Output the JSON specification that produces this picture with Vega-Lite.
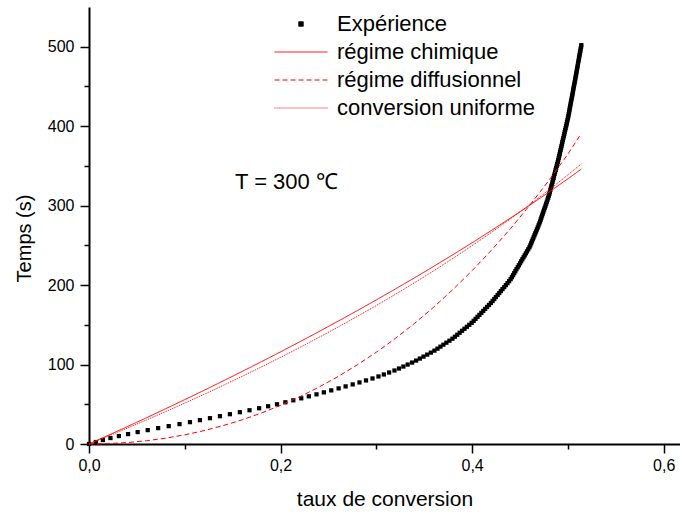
{
  "$schema": "https://vega.github.io/schema/vega-lite/v6.json",
  "width": 591,
  "height": 437,
  "autosize": {"type": "none"},
  "padding": {"left": 89, "top": 7, "right": 0, "bottom": 68},
  "background": "white",
  "config": {
    "view": {"stroke": null},
    "font": "Liberation Sans",
    "axis": {
      "domainColor": "black",
      "domainWidth": 2,
      "tickColor": "black",
      "tickWidth": 1.5,
      "grid": false,
      "labelFont": "Liberation Sans",
      "labelFontSize": 16,
      "labelColor": "black",
      "titleFont": "Liberation Sans",
      "titleFontWeight": "normal",
      "titleColor": "black"
    }
  },
  "datasets": {
    "exp": [
      {"x":0,"t":0},{"x":0.0071,"t":2.5},{"x":0.0145,"t":5},{"x":0.0224,"t":7.5},{"x":0.0312,"t":10},{"x":0.0408,"t":12.5},{"x":0.0508,"t":15},{"x":0.0613,"t":17.5},{"x":0.0722,"t":20},{"x":0.0832,"t":22.5},
      {"x":0.0945,"t":25},{"x":0.1054,"t":27.5},{"x":0.1158,"t":30},{"x":0.1263,"t":32.5},{"x":0.1367,"t":35},{"x":0.1471,"t":37.5},{"x":0.1575,"t":40},{"x":0.1676,"t":42.5},{"x":0.1776,"t":45},{"x":0.1870,"t":47.5},
      {"x":0.1963,"t":50},{"x":0.2050,"t":52.5},{"x":0.2133,"t":55},{"x":0.2216,"t":57.5},{"x":0.2295,"t":60},{"x":0.2375,"t":62.5},{"x":0.2452,"t":65},{"x":0.2529,"t":67.5},{"x":0.2606,"t":70},{"x":0.2679,"t":72.5},
      {"x":0.2753,"t":75},{"x":0.2824,"t":77.5},{"x":0.2892,"t":80},{"x":0.2960,"t":82.5},{"x":0.3022,"t":85},{"x":0.3078,"t":87.5},{"x":0.3133,"t":90},{"x":0.3189,"t":92.5},{"x":0.3236,"t":95},{"x":0.3282,"t":97.5},
      {"x":0.3327,"t":100},{"x":0.3373,"t":102.5},{"x":0.3415,"t":105},{"x":0.3454,"t":107.5},{"x":0.3492,"t":110},{"x":0.3531,"t":112.5},{"x":0.3569,"t":115},{"x":0.3606,"t":117.5},{"x":0.3638,"t":120},{"x":0.3669,"t":122.5},
      {"x":0.3700,"t":125},{"x":0.3731,"t":127.5},{"x":0.3763,"t":130},{"x":0.3794,"t":132.5},{"x":0.3820,"t":135},{"x":0.3845,"t":137.5},{"x":0.3870,"t":140},{"x":0.3895,"t":142.5},{"x":0.3920,"t":145},{"x":0.3945,"t":147.5},
      {"x":0.3970,"t":150},{"x":0.3995,"t":152.5},{"x":0.4016,"t":155},{"x":0.4036,"t":157.5},{"x":0.4056,"t":160},{"x":0.4076,"t":162.5},{"x":0.4096,"t":165},{"x":0.4116,"t":167.5},{"x":0.4136,"t":170},{"x":0.4156,"t":172.5},
      {"x":0.4176,"t":175},{"x":0.4196,"t":177.5},{"x":0.4214,"t":180},{"x":0.4231,"t":182.5},{"x":0.4248,"t":185},{"x":0.4266,"t":187.5},{"x":0.4283,"t":190},{"x":0.4300,"t":192.5},{"x":0.4317,"t":195},{"x":0.4335,"t":197.5},
      {"x":0.4352,"t":200},{"x":0.4369,"t":202.5},{"x":0.4386,"t":205},{"x":0.4402,"t":207.5},{"x":0.4415,"t":210},{"x":0.4427,"t":212.5},{"x":0.4439,"t":215},{"x":0.4451,"t":217.5},{"x":0.4463,"t":220},{"x":0.4476,"t":222.5},
      {"x":0.4488,"t":225},{"x":0.4500,"t":227.5},{"x":0.4512,"t":230},{"x":0.4524,"t":232.5},{"x":0.4537,"t":235},{"x":0.4549,"t":237.5},{"x":0.4561,"t":240},{"x":0.4573,"t":242.5},{"x":0.4585,"t":245},{"x":0.4598,"t":247.5},
      {"x":0.4607,"t":250},{"x":0.4616,"t":252.5},{"x":0.4624,"t":255},{"x":0.4633,"t":257.5},{"x":0.4641,"t":260},{"x":0.4650,"t":262.5},{"x":0.4659,"t":265},{"x":0.4667,"t":267.5},{"x":0.4676,"t":270},{"x":0.4685,"t":272.5},
      {"x":0.4693,"t":275},{"x":0.4701,"t":277.5},{"x":0.4709,"t":280},{"x":0.4716,"t":282.5},{"x":0.4723,"t":285},{"x":0.4730,"t":287.5},{"x":0.4737,"t":290},{"x":0.4744,"t":292.5},{"x":0.4751,"t":295},{"x":0.4759,"t":297.5},
      {"x":0.4766,"t":300},{"x":0.4773,"t":302.5},{"x":0.4780,"t":305},{"x":0.4787,"t":307.5},{"x":0.4794,"t":310},{"x":0.4801,"t":312.5},{"x":0.4807,"t":315},{"x":0.4812,"t":317.5},{"x":0.4817,"t":320},{"x":0.4823,"t":322.5},
      {"x":0.4828,"t":325},{"x":0.4834,"t":327.5},{"x":0.4839,"t":330},{"x":0.4845,"t":332.5},{"x":0.4850,"t":335},{"x":0.4855,"t":337.5},{"x":0.4861,"t":340},{"x":0.4866,"t":342.5},{"x":0.4872,"t":345},{"x":0.4877,"t":347.5},
      {"x":0.4883,"t":350},{"x":0.4888,"t":352.5},{"x":0.4894,"t":355},{"x":0.4899,"t":357.5},{"x":0.4904,"t":360},{"x":0.4909,"t":362.5},{"x":0.4914,"t":365},{"x":0.4918,"t":367.5},{"x":0.4923,"t":370},{"x":0.4928,"t":372.5},
      {"x":0.4933,"t":375},{"x":0.4938,"t":377.5},{"x":0.4942,"t":380},{"x":0.4947,"t":382.5},{"x":0.4952,"t":385},{"x":0.4957,"t":387.5},{"x":0.4962,"t":390},{"x":0.4966,"t":392.5},{"x":0.4971,"t":395},{"x":0.4976,"t":397.5},
      {"x":0.4981,"t":400},{"x":0.4986,"t":402.5},{"x":0.4990,"t":405},{"x":0.4995,"t":407.5},{"x":0.5000,"t":410},{"x":0.5004,"t":412.5},{"x":0.5008,"t":415},{"x":0.5012,"t":417.5},{"x":0.5016,"t":420},{"x":0.5019,"t":422.5},
      {"x":0.5023,"t":425},{"x":0.5027,"t":427.5},{"x":0.5031,"t":430},{"x":0.5035,"t":432.5},{"x":0.5039,"t":435},{"x":0.5043,"t":437.5},{"x":0.5047,"t":440},{"x":0.5051,"t":442.5},{"x":0.5054,"t":445},{"x":0.5058,"t":447.5},
      {"x":0.5062,"t":450},{"x":0.5066,"t":452.5},{"x":0.5070,"t":455},{"x":0.5074,"t":457.5},{"x":0.5077,"t":460},{"x":0.5081,"t":462.5},{"x":0.5085,"t":465},{"x":0.5089,"t":467.5},{"x":0.5092,"t":470},{"x":0.5096,"t":472.5},
      {"x":0.5100,"t":475},{"x":0.5104,"t":477.5},{"x":0.5107,"t":480},{"x":0.5111,"t":482.5},{"x":0.5115,"t":485},{"x":0.5118,"t":487.5},{"x":0.5122,"t":490},{"x":0.5126,"t":492.5},{"x":0.5130,"t":495},{"x":0.5133,"t":497.5},
      {"x":0.5137,"t":500},{"x":0.5140,"t":502}
    ],
    "models": [
      {"x":0,"régime chimique":0,"régime diffusionnel":0,"conversion uniforme":0},
      {"x":0.02,"régime chimique":10.86,"régime diffusionnel":0.45,"conversion uniforme":9.87},
      {"x":0.04,"régime chimique":21.87,"régime diffusionnel":1.8,"conversion uniforme":19.95},
      {"x":0.06,"régime chimique":33.03,"régime diffusionnel":4.09,"conversion uniforme":30.24},
      {"x":0.08,"régime chimique":44.35,"régime diffusionnel":7.33,"conversion uniforme":40.75},
      {"x":0.10,"régime chimique":55.84,"régime diffusionnel":11.57,"conversion uniforme":51.49},
      {"x":0.12,"régime chimique":67.5,"régime diffusionnel":16.83,"conversion uniforme":62.47},
      {"x":0.14,"régime chimique":79.33,"régime diffusionnel":23.11,"conversion uniforme":73.71},
      {"x":0.16,"régime chimique":91.35,"régime diffusionnel":30.49,"conversion uniforme":85.21},
      {"x":0.18,"régime chimique":103.57,"régime diffusionnel":38.99,"conversion uniforme":96.98},
      {"x":0.20,"régime chimique":115.98,"régime diffusionnel":48.63,"conversion uniforme":109.05},
      {"x":0.22,"régime chimique":128.61,"régime diffusionnel":59.49,"conversion uniforme":121.42},
      {"x":0.24,"régime chimique":141.45,"régime diffusionnel":71.55,"conversion uniforme":134.12},
      {"x":0.26,"régime chimique":154.51,"régime diffusionnel":84.91,"conversion uniforme":147.15},
      {"x":0.28,"régime chimique":167.82,"régime diffusionnel":99.52,"conversion uniforme":160.54},
      {"x":0.30,"régime chimique":181.37,"régime diffusionnel":115.55,"conversion uniforme":174.31},
      {"x":0.32,"régime chimique":195.19,"régime diffusionnel":133.0,"conversion uniforme":188.47},
      {"x":0.34,"régime chimique":209.27,"régime diffusionnel":151.91,"conversion uniforme":203.06},
      {"x":0.36,"régime chimique":223.65,"régime diffusionnel":172.4,"conversion uniforme":218.1},
      {"x":0.38,"régime chimique":238.33,"régime diffusionnel":194.47,"conversion uniforme":233.62},
      {"x":0.40,"régime chimique":253.32,"régime diffusionnel":218.2,"conversion uniforme":249.64},
      {"x":0.42,"régime chimique":268.66,"régime diffusionnel":243.68,"conversion uniforme":266.21},
      {"x":0.44,"régime chimique":284.35,"régime diffusionnel":271.0,"conversion uniforme":283.36},
      {"x":0.46,"régime chimique":300.42,"régime diffusionnel":300.22,"conversion uniforme":301.13},
      {"x":0.48,"régime chimique":316.89,"régime diffusionnel":331.46,"conversion uniforme":319.57},
      {"x":0.50,"régime chimique":333.79,"régime diffusionnel":364.82,"conversion uniforme":338.74},
      {"x":0.514,"régime chimique":346.0,"régime diffusionnel":391.0,"conversion uniforme":352.6}
    ],
    "notes": [
      {"x":0.1524,"t":321,"label":"T = 300 ℃"}
    ]
  },
  "encoding": {
    "x": {
      "field": "x",
      "type": "quantitative",
      "scale": {"domain": [0, 0.617], "nice": false, "zero": false},
      "axis": {
        "title": "taux de conversion",
        "titleFontSize": 21,
        "titlePadding": 15,
        "values": [0, 0.1, 0.2, 0.3, 0.4, 0.5, 0.6],
        "labelExpr": "round(datum.value*10) % 2 === 0 ? replace(format(datum.value, '.1f'), '.', ',') : ''",
        "tickSize": {"condition": {"test": "round(datum.value*10) % 2 === 0", "value": 9}, "value": 5},
        "labelPadding": 4,
        "labelFlush": false,
        "labelOverlap": false
      }
    },
    "y": {
      "field": "t",
      "type": "quantitative",
      "scale": {"domain": [0, 550], "nice": false, "zero": false},
      "axis": {
        "title": "Temps (s)",
        "titleFontSize": 20,
        "titlePadding": 13,
        "titleY": 231,
        "values": [0, 50, 100, 150, 200, 250, 300, 350, 400, 450, 500],
        "labelExpr": "datum.value % 100 === 0 ? datum.label : ''",
        "tickSize": {"condition": {"test": "datum.value % 100 === 0", "value": 9}, "value": 5},
        "labelPadding": 6,
        "labelFlush": false,
        "labelOverlap": false
      }
    }
  },
  "layer": [
    {
      "data": {"name": "exp"},
      "mark": {"type": "point", "shape": "square", "filled": true, "size": 18, "color": "black", "opacity": 1}
    },
    {
      "data": {"name": "models"},
      "transform": [
        {"fold": ["régime chimique", "régime diffusionnel", "conversion uniforme"], "as": ["s", "t"]}
      ],
      "mark": {"type": "line", "strokeWidth": 1},
      "encoding": {
        "color": {
          "field": "s",
          "type": "nominal",
          "scale": {
            "domain": ["Expérience", "régime chimique", "régime diffusionnel", "conversion uniforme"],
            "range": ["black", "red", "red", "red"]
          },
          "legend": {
            "title": null,
            "orient": "none",
            "legendX": 201,
            "legendY": 6,
            "padding": 0,
            "rowPadding": 6,
            "symbolType": "M-5,0H5",
            "symbolSize": 112,
            "symbolStrokeWidth": 1,
            "labelFont": "Liberation Sans",
            "labelFontSize": 22,
            "labelColor": "black",
            "labelOffset": 25,
            "labelLimit": 400,
            "encode": {
              "symbols": {
                "update": {
                  "shape": {"signal": "datum.value === 'Expérience' ? 'square' : 'M-5,0H5'"},
                  "size": {"signal": "datum.value === 'Expérience' ? 20 : 112"},
                  "fill": {"signal": "datum.value === 'Expérience' ? 'black' : 'transparent'"}
                }
              }
            }
          }
        },
        "strokeDash": {
          "field": "s",
          "type": "nominal",
          "scale": {
            "domain": ["Expérience", "régime chimique", "régime diffusionnel", "conversion uniforme"],
            "range": [[1, 0], [1, 0], [5, 3], [1, 1]]
          },
          "legend": {
            "title": null,
            "orient": "none",
            "legendX": 201,
            "legendY": 6,
            "padding": 0,
            "rowPadding": 6,
            "symbolType": "M-5,0H5",
            "symbolSize": 112,
            "symbolStrokeWidth": 1,
            "labelFont": "Liberation Sans",
            "labelFontSize": 22,
            "labelColor": "black",
            "labelOffset": 25,
            "labelLimit": 400
          }
        }
      }
    },
    {
      "data": {"name": "notes"},
      "mark": {"type": "text", "align": "left", "baseline": "alphabetic", "fontSize": 22, "font": "Liberation Sans", "color": "black"},
      "encoding": {"text": {"field": "label"}}
    }
  ]
}
